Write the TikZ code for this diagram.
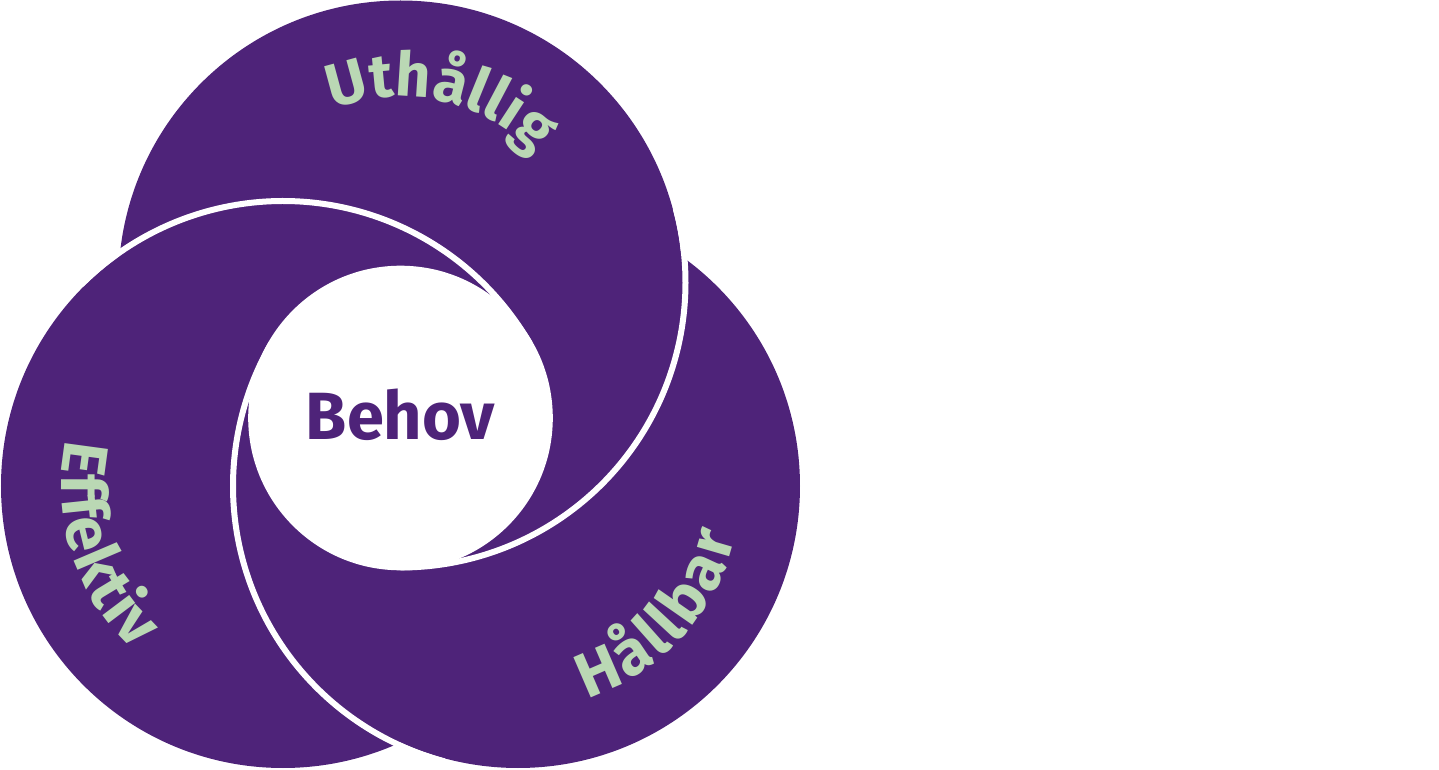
\documentclass[tikz,border=0pt]{standalone}
\usepackage{fontspec}
\setmainfont{Fira Sans}
\usetikzlibrary{decorations.text}
\definecolor{vpurple}{HTML}{4E2379}
\definecolor{vgreen}{HTML}{BAD8B4}
\newcommand{\lblfont}{\fontsize{18}{18}\selectfont\bfseries\color{vgreen}}
\newcommand{\toplblfont}{\fontsize{17.4}{17.4}\selectfont\bfseries\color{vgreen}}
\begin{document}
\begin{tikzpicture}[
  disc/.style={fill=vpurple},
  gap/.style={draw=white, line width=0.06cm},
  ringtext/.style={decorate, decoration={text along path, text align=fit to path, text={#1}}},
  ringtextc/.style={decorate, decoration={text along path, text align=center, text={#1}}}
]
\useasboundingbox (0,0) rectangle (14.39,7.70);
\coordinate (T) at (4.005,4.875);
\coordinate (L) at (2.83,2.84);
\coordinate (R) at (5.18,2.84);
\coordinate (C) at (4.005,3.52);
% discs
\fill[disc] (L) circle (2.82);
\fill[disc] (R) circle (2.82);
\fill[disc] (T) circle (2.82);
% white gaps (cyclic overlap)
\draw[gap] (L) ++(135:2.85) arc (135:30.06:2.85);
\draw[gap] (T) ++(15:2.85) arc (15:-90:2.85);
\draw[gap] (R) ++(255:2.85) arc (255:149.94:2.85);
% centre
\fill[white] (C) circle (1.523);
\node[anchor=base, inner sep=0pt, text=vpurple, font=\fontsize{19}{19}\selectfont\bfseries] (behov) at (4.005,3.30) {Behov};
% curved labels
\path[ringtextc={|\toplblfont|Uthållig}] (T) ++(117.5:1.86) arc (117.5:37.5:1.86);
\path[ringtext={|\lblfont|Effektiv}] (L) ++(168:2.22) arc (168:228:2.22);
\path[ringtext={|\lblfont|Hållbar}] (R) ++(-72:2.23) arc (-72:-13:2.23);
\end{tikzpicture}
\end{document}
